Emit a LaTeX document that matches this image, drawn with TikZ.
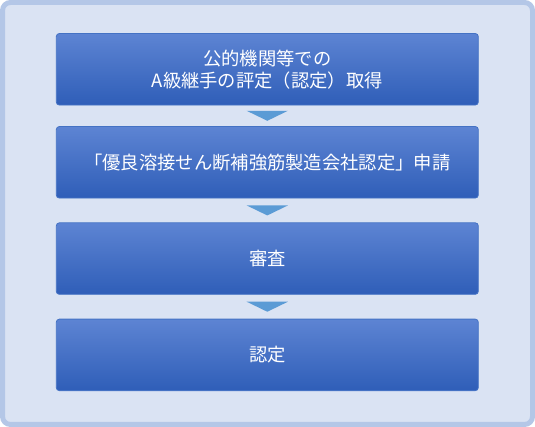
\documentclass[tikz,border=0pt]{standalone}
\usepackage{fontspec}
\setmainfont{Noto Sans CJK JP}
\usepackage{tikz}
\usetikzlibrary{positioning,calc}
\definecolor{framefill}{HTML}{DAE3F3}
\definecolor{frameline}{HTML}{B4C7E7}
\definecolor{boxtop}{HTML}{5D84D3}
\definecolor{boxmid}{HTML}{4472C4}
\definecolor{boxbot}{HTML}{2F5EB8}
\definecolor{boxline}{HTML}{4472C4}
\definecolor{arrowfill}{HTML}{5B9BD5}
\tikzset{
  stepbox/.style={
    draw=boxline, line width=0.8pt, rounded corners=3pt,
    top color=boxtop, middle color=boxmid, bottom color=boxbot,
    minimum width=422pt, minimum height=71.5pt, inner sep=0pt,
    text=white, align=center,
    font=\fontsize{18.3pt}{22pt}\selectfont
  },
  flowarrow/.style={fill=arrowfill}
}
\begin{document}
\begin{tikzpicture}[x=1pt,y=1pt]
            \useasboundingbox (0,0) rectangle (535,427);
            \draw[line width=5pt, draw=frameline, fill=framefill, rounded corners=8pt] (2.5,2.5) rectangle (532.5,424.5);

            \node (acq) [stepbox] at (267.3,357.7) {公的機関等での\\A級継手の評定（認定）取得};
            \node (app) [stepbox, below = 20.7pt of acq] {「優良溶接せん断補強筋製造会社認定」申請};
            \node (rev) [stepbox, below = 24pt of app] {審査};
            \node (cert) [stepbox, below = 24pt of rev] {認定};

            \foreach \a/\b in {acq/app, app/rev, rev/cert}
                \fill[flowarrow] ($(\a.south)!0.5!(\b.north)$) +(-20.6,5) -- +(20.6,5) -- +(0,-5) -- cycle;
\end{tikzpicture}
\end{document}
